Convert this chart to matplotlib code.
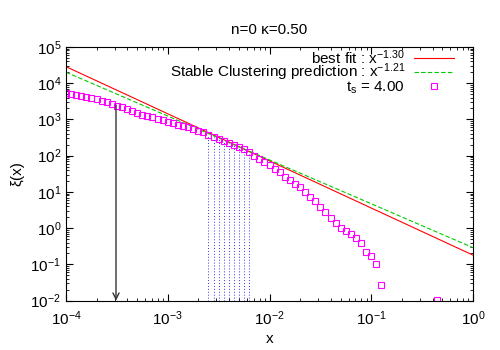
import numpy as np
import matplotlib
matplotlib.use('Agg')
import matplotlib.pyplot as plt

plt.rcParams['font.family'] = ['Liberation Sans', 'DejaVu Sans']
plt.rcParams['mathtext.fontset'] = 'custom'
plt.rcParams['mathtext.rm'] = 'Liberation Sans'
plt.rcParams['mathtext.it'] = 'Liberation Sans'
plt.rcParams['font.size'] = 11

xs = [1.00e-4, 1.12e-4, 1.26e-4, 1.41e-4, 1.58e-4, 1.78e-4, 2.00e-4, 2.24e-4,
      2.51e-4, 2.82e-4, 3.16e-4, 3.55e-4, 3.98e-4, 4.47e-4, 5.01e-4, 5.62e-4,
      6.31e-4, 7.08e-4, 7.94e-4, 8.91e-4, 1.00e-3, 1.12e-3, 1.26e-3, 1.41e-3,
      1.58e-3, 1.78e-3, 2.00e-3, 2.24e-3, 2.51e-3, 2.82e-3, 3.16e-3, 3.55e-3,
      3.98e-3, 4.47e-3, 5.01e-3, 5.62e-3, 6.31e-3, 7.08e-3, 7.94e-3, 8.91e-3,
      1.00e-2, 1.12e-2, 1.26e-2, 1.41e-2, 1.58e-2, 1.78e-2, 2.00e-2, 2.24e-2,
      2.51e-2, 2.82e-2, 3.16e-2, 3.55e-2, 3.98e-2, 4.47e-2, 5.01e-2, 5.62e-2,
      6.31e-2, 7.08e-2, 7.94e-2, 8.91e-2, 1.00e-1, 1.12e-1, 1.26e-1, 4.47e-1]
xi = [5200, 4890, 4590, 4300, 4040, 3790, 3560, 3250,
      2940, 2640, 2370, 2140, 1920, 1690, 1490, 1310,
      1230, 1140, 1040, 938, 843, 776, 710, 654,
      602, 541, 486, 439, 379, 333, 294, 261,
      230, 202, 175, 150, 123, 95.7, 80.6, 66.7,
      55.1, 43.6, 34.7, 26.2, 20.9, 16.8, 13.4, 10.1,
      7.38, 5.51, 3.84, 2.85, 1.95, 1.42, 1.01, 0.854,
      0.705, 0.537, 0.391, 0.225, 0.168, 0.105, 0.0278, 0.0105]

# points used for the fit (blue dotted drops)
fit_lo, fit_hi = 28, 37

# power laws
line_x = [1e-4, 1.0]
fit_amp, fit_slope = 0.18, -1.30
sc_amp, sc_slope = 0.29, -1.21

# arrow marker
arrow_x = 3.1e-4
arrow_top = 2.5e3

fig = plt.figure(figsize=(5, 3.5), dpi=100)
ax = fig.add_axes([0.132, 0.141, 0.814, 0.725])

lx = np.array(line_x)
h1, = ax.plot(lx, fit_amp * lx ** fit_slope, color='red', lw=0.8,
              label=r'best fit : x$^{-1.30}$')
h2, = ax.plot(lx, sc_amp * lx ** sc_slope, color='#00cc00', lw=0.8,
              ls=(0, (4, 2)), label=r'Stable Clustering prediction : x$^{-1.21}$')
h3, = ax.plot(xs, xi, ls='none', marker='s', mfc='none', mec='#ff00ff',
              ms=4, mew=0.8, label=r't$_{\rm s}$ = 4.00')

ax.vlines(xs[fit_lo:fit_hi], 1e-2, xi[fit_lo:fit_hi], colors='#3333ff',
          linestyles=(0, (1, 2)), lw=0.7)

ax.annotate('', xy=(arrow_x, 1e-2), xytext=(arrow_x, arrow_top),
            arrowprops=dict(arrowstyle='->', color='#333333', lw=1.0,
                            shrinkA=0, shrinkB=0))

ax.set_xscale('log')
ax.set_yscale('log')
ax.set_xlim(1e-4, 1)
ax.set_ylim(1e-2, 1e5)
ax.tick_params(which='both', direction='in', top=True, right=True)
ax.tick_params(which='major', length=5)
ax.tick_params(which='minor', length=2.5)
ax.tick_params(axis='x', which='major', pad=6)
ax.yaxis.set_major_locator(matplotlib.ticker.LogLocator(base=10, numticks=10))
ax.yaxis.set_minor_locator(matplotlib.ticker.LogLocator(base=10, subs=np.arange(2, 10), numticks=10))
ax.set_xlabel('x', labelpad=3)
ax.set_ylabel('ξ(x)')
ax.set_title('n=0 κ=0.50', fontsize=11, pad=9)

# gnuplot style key: text right aligned, sample on the right
rows = [0.959, 0.899, 0.838]
hands = [h1, h2, h3]
for i, h in enumerate(hands):
    leg = ax.legend(handles=[h], loc='center right', bbox_to_anchor=(0.953, rows[i]),
                    frameon=False, markerfirst=False, handlelength=2.6,
                    borderpad=0, borderaxespad=0, handletextpad=0.6,
                    numpoints=1)
    if i < len(hands) - 1:
        ax.add_artist(leg)

plt.savefig('out.png')
